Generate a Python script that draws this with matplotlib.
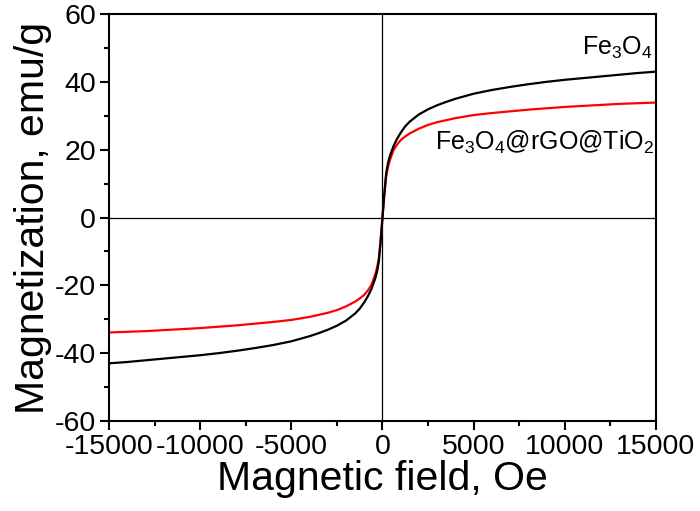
import matplotlib
matplotlib.use("Agg")
import matplotlib.pyplot as plt
from matplotlib.ticker import MultipleLocator

plt.rcParams['font.family'] = ['Liberation Sans', 'DejaVu Sans']
plt.rcParams['mathtext.fontset'] = 'custom'
plt.rcParams['mathtext.rm'] = 'Liberation Sans'
plt.rcParams['mathtext.it'] = 'Liberation Sans'
plt.rcParams['axes.unicode_minus'] = False

# Field values (Oe)
field = [-15000, -14000, -13000, -12000, -11000, -10000, -9000, -8000, -7000, -6000,
         -5000, -4000, -3500, -3000, -2500, -2000, -1500, -1250, -1000, -800, -600,
         -400, -300, -200, -100, 0,
         100, 200, 300, 400, 600, 800, 1000, 1250, 1500, 2000, 2500, 3000, 3500,
         4000, 5000, 6000, 7000, 8000, 9000, 10000, 11000, 12000, 13000, 14000, 15000]
# Magnetization (emu/g)
m_fe3o4 = [-43.0, -42.6, -42.1, -41.6, -41.1, -40.6, -40.0, -39.3, -38.5, -37.6,
           -36.5, -35.0, -34.1, -33.1, -31.9, -30.4, -28.3, -26.9, -25.0, -23.2, -21.0,
           -18.0, -16.0, -13.0, -7.0, 0.0,
           7.0, 13.0, 16.0, 18.0, 21.0, 23.2, 25.0, 26.9, 28.3, 30.4, 31.9, 33.1, 34.1,
           35.0, 36.5, 37.6, 38.5, 39.3, 40.0, 40.6, 41.1, 41.6, 42.1, 42.6, 43.0]
m_composite = [-33.9, -33.7, -33.5, -33.2, -32.9, -32.6, -32.2, -31.8, -31.3, -30.8,
               -30.2, -29.3, -28.7, -28.1, -27.3, -26.2, -24.8, -23.9, -22.8, -21.5, -19.8,
               -16.8, -14.8, -12.0, -6.5, 0.0,
               6.5, 12.0, 14.8, 16.8, 19.8, 21.5, 22.8, 23.9, 24.8, 26.2, 27.3, 28.1, 28.7,
               29.3, 30.2, 30.8, 31.3, 31.8, 32.2, 32.6, 32.9, 33.2, 33.5, 33.7, 33.9]

fig = plt.figure(figsize=(7.0, 5.11), dpi=100)
ax = fig.add_axes([0.1557, 0.1761, 0.7814, 0.7965])

ax.axhline(0, color='black', lw=0.9, zorder=1)
ax.axvline(0, color='black', lw=0.9, zorder=1)
ax.plot(field, m_fe3o4, color='black', lw=1.6, zorder=3)
ax.plot(field, m_composite, color='#ff0000', lw=1.6, zorder=2)

ax.set_xlim(-15000, 15000)
ax.set_ylim(-60, 60)
ax.xaxis.set_major_locator(MultipleLocator(5000))
ax.xaxis.set_minor_locator(MultipleLocator(2500))
ax.yaxis.set_major_locator(MultipleLocator(20))
ax.yaxis.set_minor_locator(MultipleLocator(10))
ax.tick_params(which='both', direction='out', top=False, right=False, width=1.5,
               labelsize=20.5, pad=3)
ax.tick_params(which='major', length=6.5)
ax.tick_params(which='minor', length=3.5)
for s in ax.spines.values():
    s.set_linewidth(1.5)

ax.set_xlabel('Magnetic field, Oe', fontsize=29.5, labelpad=0)
ax.set_ylabel('Magnetization, emu/g', fontsize=29.5, labelpad=2)

ax.text(14800, 50, r'Fe$_3$O$_4$', fontsize=18, ha='right', va='center')
ax.text(14900, 22.0, r'Fe$_3$O$_4$@rGO@TiO$_2$', fontsize=18, ha='right', va='center')

fig.savefig('out.png', dpi=100)
